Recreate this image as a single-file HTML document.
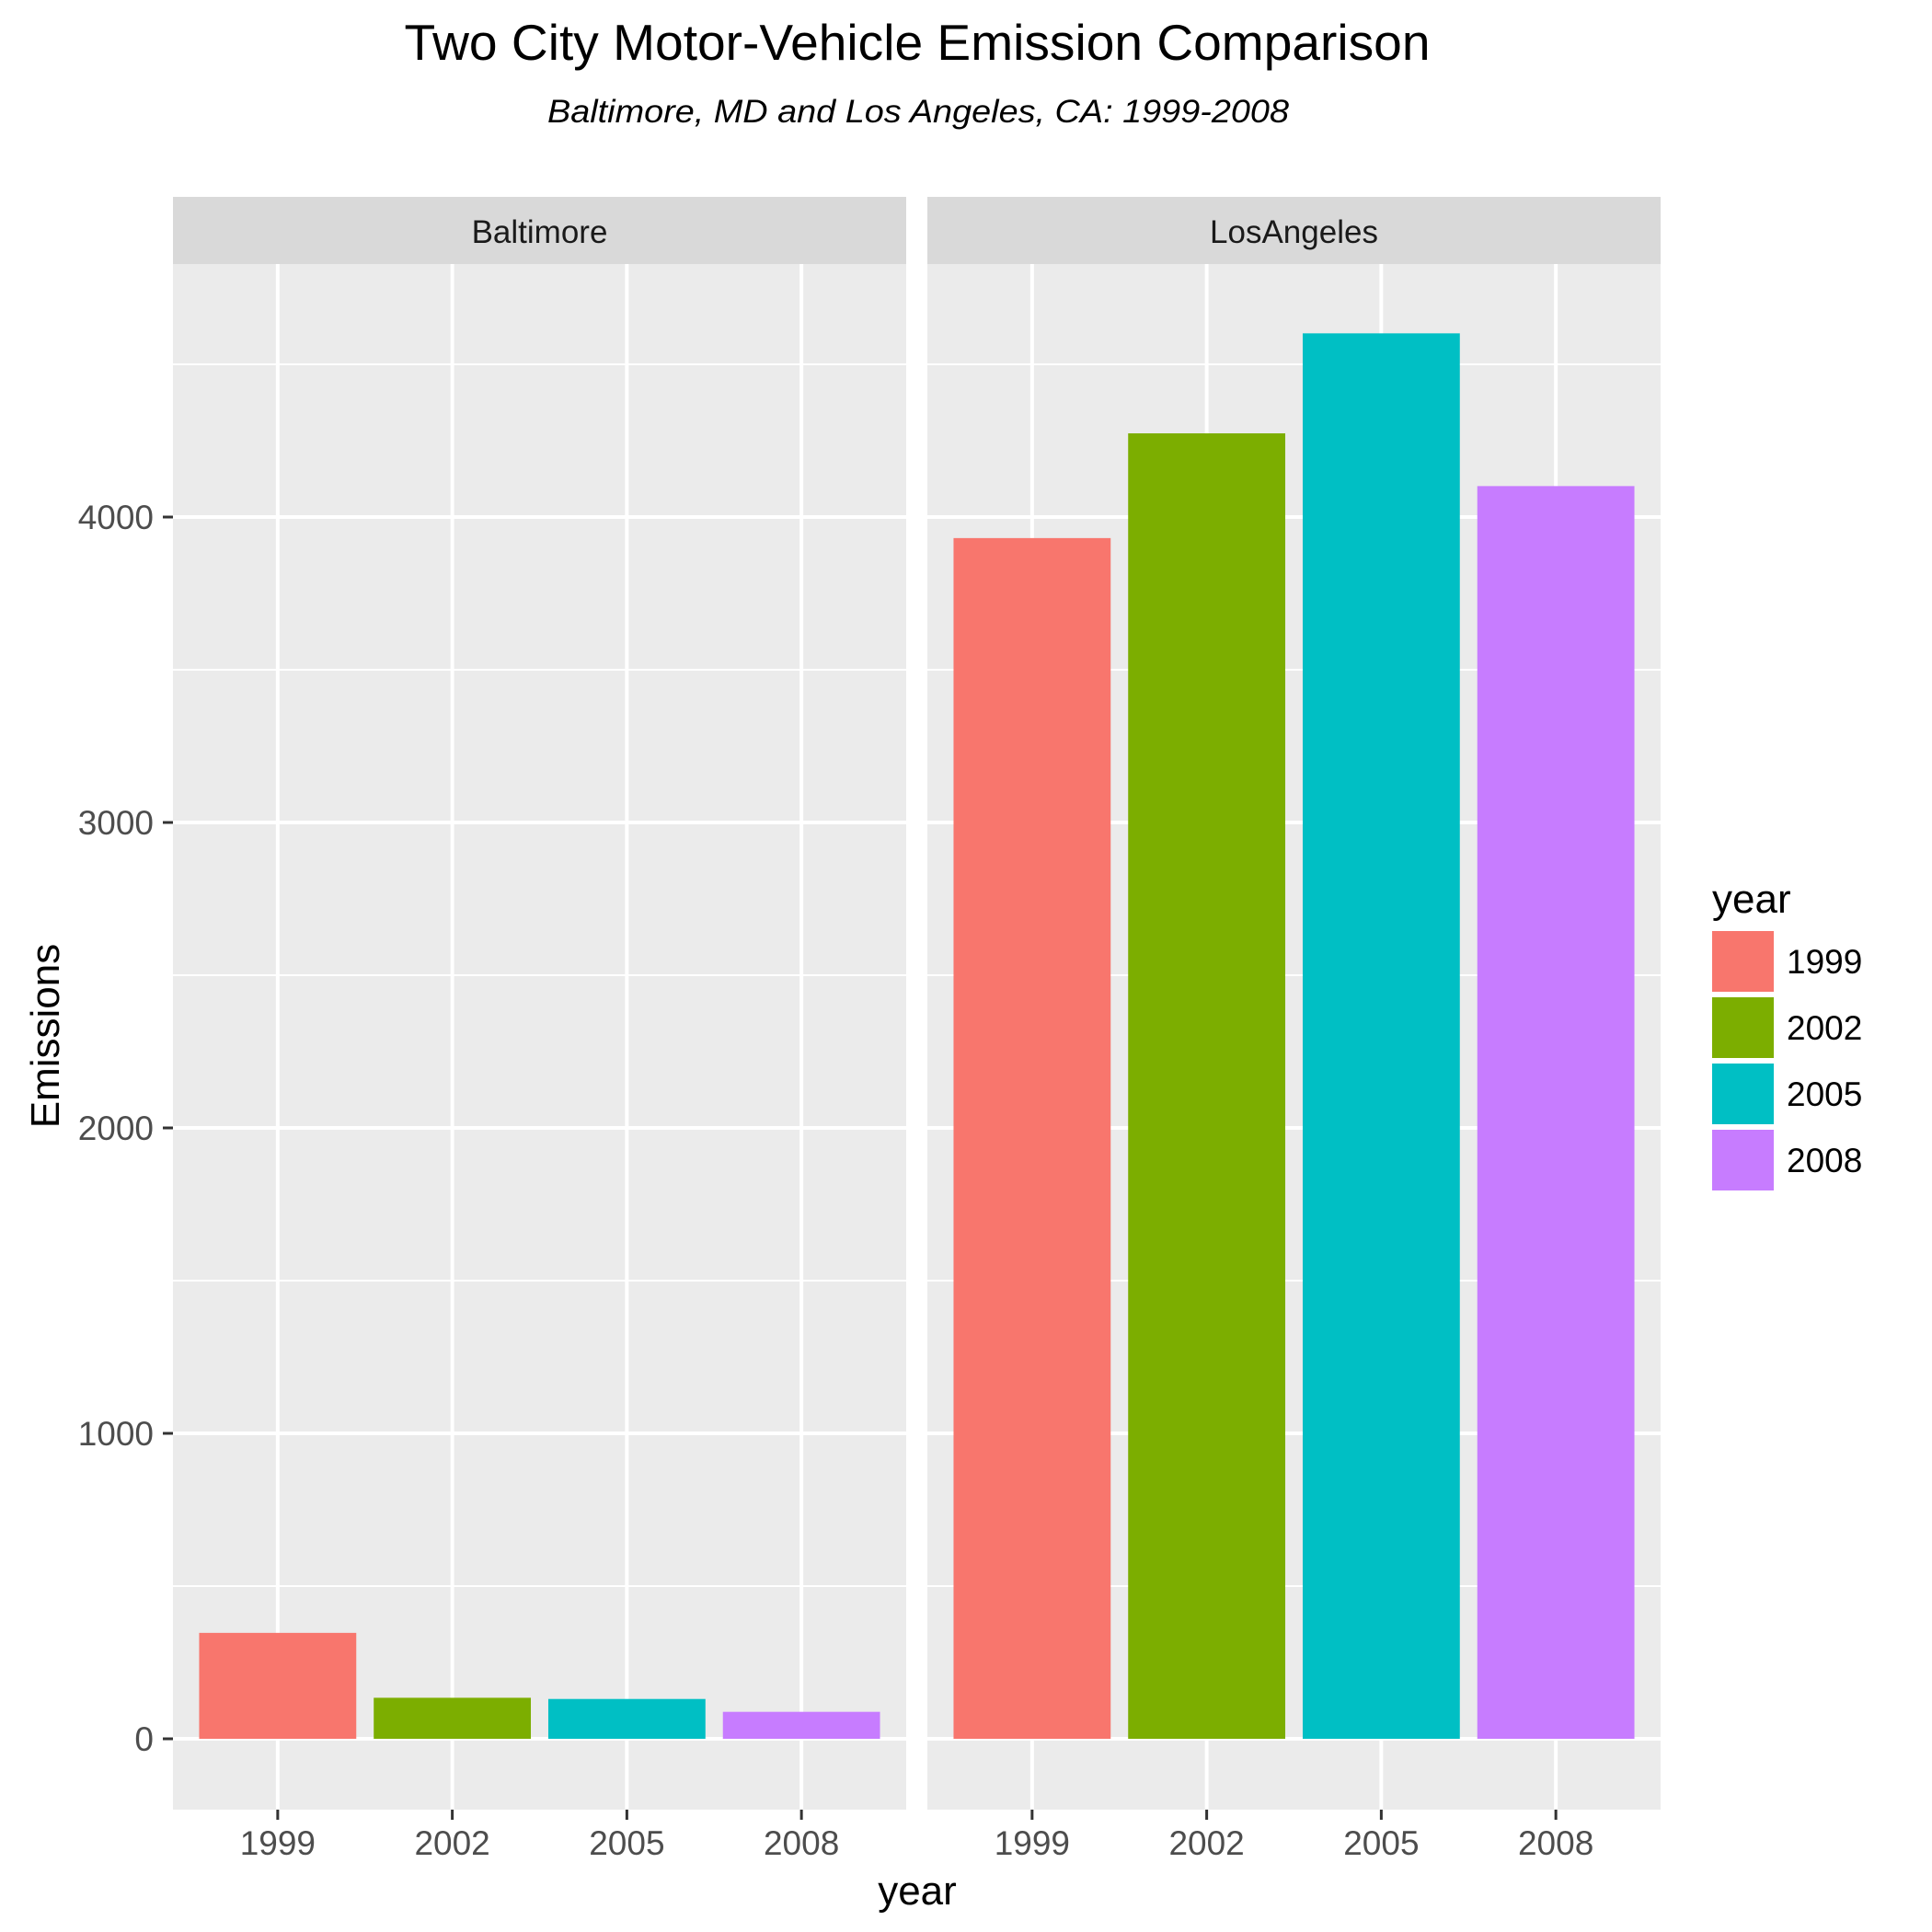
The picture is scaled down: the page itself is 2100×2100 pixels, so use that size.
<!DOCTYPE html>
<html><head><meta charset="utf-8"><style>
html,body{margin:0;padding:0;background:#fff}
svg{display:block;font-family:"Liberation Sans",Arial,sans-serif}
</style></head><body>
<svg id="chart" width="2100" height="2100" viewBox="0 0 2100 2100">
<text x="997" y="65" text-anchor="middle" font-size="55" fill="#000" textLength="1115" lengthAdjust="spacingAndGlyphs">Two City Motor-Vehicle Emission Comparison</text>
<text x="998" y="133" text-anchor="middle" font-size="35" font-style="italic" fill="#000" textLength="806" lengthAdjust="spacingAndGlyphs">Baltimore, MD and Los Angeles, CA: 1999-2008</text>
<g id="plots"></g>
<text x="997" y="2070" text-anchor="middle" font-size="44" fill="#000">year</text>
<text transform="translate(64,1126) rotate(-90)" text-anchor="middle" font-size="44" fill="#000">Emissions</text>
<g id="legend">
<text x="1861" y="992" font-size="44" fill="#000">year</text>
</g>
</svg>
<script>
const categories = ["1999","2002","2005","2008"];
const cities = ["Baltimore","LosAngeles"];
const baltimoreValues = [346.8, 134.3, 130.4, 88.3];
const losAngelesValues = [3931.1, 4274.0, 4601.4, 4101.3];
const yTickLabels = [0, 1000, 2000, 3000, 4000];
const colors = ["#F8766D","#7CAE00","#00BFC4","#C77CFF"];

const NS = "http://www.w3.org/2000/svg";
function mk(tag, attrs, parent){const e=document.createElementNS(NS,tag);for(const k in attrs)e.setAttribute(k,attrs[k]);parent.appendChild(e);return e;}
const plots = document.getElementById('plots');
const stripTop = 214, panelTop = 287, panelBottom = 1967;
const zeroY = 1890, pxPerUnit = (1890-562)/4000;
function y(v){return zeroY - v*pxPerUnit;}
const panels = [{x0:188,x1:985},{x0:1008,x1:1805}];
const seriesByCity = [baltimoreValues, losAngelesValues];

panels.forEach((p, pi) => {
  const w = p.x1 - p.x0;
  const unit = w / (categories.length - 1 + 1.2);
  const xc = i => p.x0 + (0.6 + i) * unit;
  const strip = mk('rect',{x:p.x0,y:stripTop,width:w,height:panelTop-stripTop,fill:'#d9d9d9'},plots);
  
  
  const st = mk('text',{x:(p.x0+p.x1)/2,y:264,'text-anchor':'middle','font-size':35,fill:'#1a1a1a'},plots);
  st.textContent = cities[pi];
  
  
  const bg = mk('rect',{x:p.x0,y:panelTop,width:w,height:panelBottom-panelTop,fill:'#ebebeb'},plots);
  
  
  // minor grid
  for (let v = -500; v <= 4500; v += 1000) {
    const gy = y(v);
    if (gy < panelTop || gy > panelBottom) continue;
    const l = mk('line',{x1:p.x0,x2:p.x1,y1:gy,y2:gy,stroke:'#fff','stroke-width':2},plots);
    
    
  }
  yTickLabels.forEach(v => {
    const l = mk('line',{x1:p.x0,x2:p.x1,y1:y(v),y2:y(v),stroke:'#fff','stroke-width':4},plots);
    
    
  });
  categories.forEach((c, i) => {
    const l = mk('line',{x1:xc(i),x2:xc(i),y1:panelTop,y2:panelBottom,stroke:'#fff','stroke-width':4},plots);
    
    
  });
  const vals = seriesByCity[pi];
  categories.forEach((c, i) => {
    const bw = unit * 0.9;
    const b = mk('rect',{x:xc(i)-bw/2,y:y(vals[i]),width:bw,height:y(0)-y(vals[i]),fill:colors[i]},plots);
    
    
    const tk = mk('line',{x1:xc(i),x2:xc(i),y1:panelBottom,y2:panelBottom+11,stroke:'#333','stroke-width':3},plots);
    
    
    const tl = mk('text',{x:xc(i),y:2016,'text-anchor':'middle','font-size':37,fill:'#4d4d4d'},plots);
    tl.textContent = c;
    
    
  });
});
yTickLabels.forEach(v => {
  const tk = mk('line',{x1:177,x2:188,y1:y(v),y2:y(v),stroke:'#333','stroke-width':3},plots);
  
  
  const tl = mk('text',{x:167,y:y(v)+13,'text-anchor':'end','font-size':37,fill:'#4d4d4d'},plots);
  tl.textContent = String(v);
  
  
});
const legend = document.getElementById('legend');
categories.forEach((c, i) => {
  const ky = 1012 + i*72;
  const k = mk('rect',{x:1861,y:ky,width:67,height:66,fill:colors[i]},legend);
  
  
  const t = mk('text',{x:1942,y:ky+46,'font-size':37,fill:'#000'},legend);
  t.textContent = c;
  
  
});
</script>
</body></html>
